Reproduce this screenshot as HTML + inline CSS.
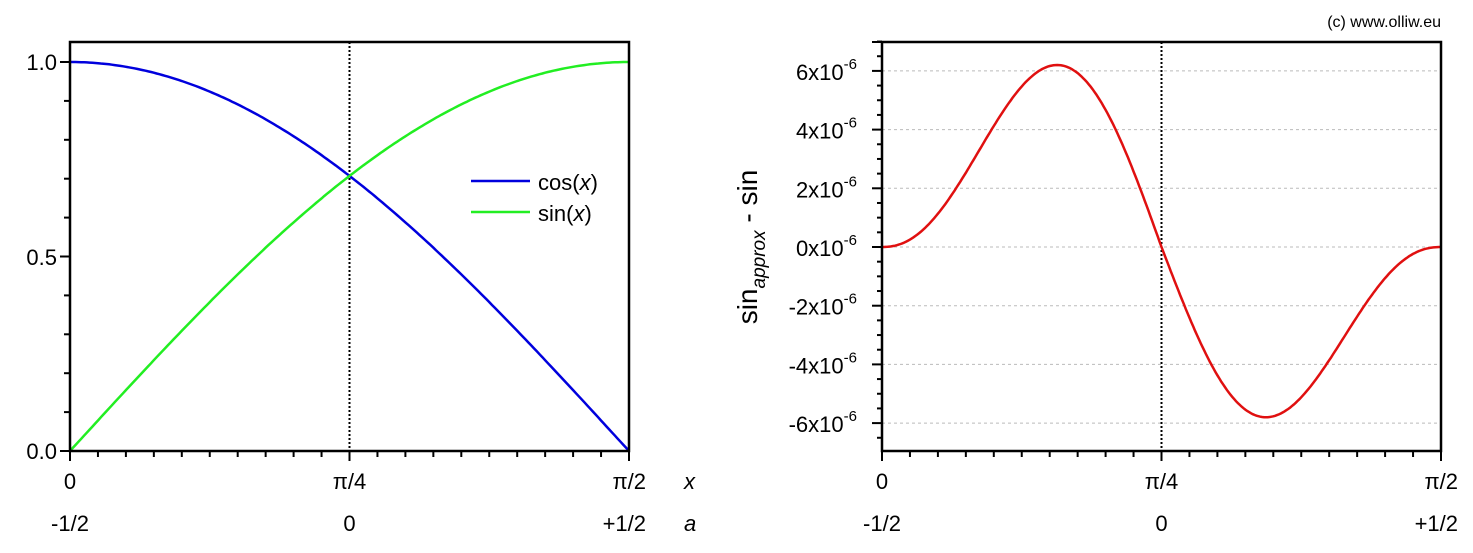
<!DOCTYPE html>
<html><head><meta charset="utf-8"><style>
html,body{margin:0;padding:0;background:#fff;}
svg{display:block;font-family:"Liberation Sans",Arial,sans-serif;}
</style></head><body>
<svg id="s" width="1473" height="553" viewBox="0 0 1473 553" xmlns="http://www.w3.org/2000/svg">
<text x="1441" y="27" font-size="16" text-anchor="end">(c) www.olliw.eu</text>
<g id="L"></g><g id="R"></g>
<g font-size="22" fill="#000">
<text x="70" y="489" text-anchor="middle">0</text>
<text x="349.5" y="489" text-anchor="middle">π/4</text>
<text x="646" y="489" text-anchor="end">π/2</text>
<text x="684" y="489" font-style="italic">x</text>
<text x="70" y="531" text-anchor="middle">-1/2</text>
<text x="349.5" y="531" text-anchor="middle">0</text>
<text x="646" y="531" text-anchor="end">+1/2</text>
<text x="684" y="531" font-style="italic">a</text>
<text x="57" y="70" text-anchor="end">1.0</text>
<text x="57" y="265" text-anchor="end">0.5</text>
<text x="57" y="459" text-anchor="end">0.0</text>
<text x="882" y="489" text-anchor="middle">0</text>
<text x="1161.5" y="489" text-anchor="middle">π/4</text>
<text x="1458" y="489" text-anchor="end">π/2</text>
<text x="882" y="531" text-anchor="middle">-1/2</text>
<text x="1161.5" y="531" text-anchor="middle">0</text>
<text x="1458" y="531" text-anchor="end">+1/2</text>
<text x="538" y="190">cos(<tspan font-style="italic">x</tspan>)</text>
<text x="538" y="221">sin(<tspan font-style="italic">x</tspan>)</text>
</g>
<text transform="translate(757,247) rotate(-90)" font-size="28" text-anchor="middle">sin<tspan font-size="19" font-style="italic" dy="8">approx</tspan><tspan dy="-8"> - sin</tspan></text>
</svg>
<script>
var NS="http://www.w3.org/2000/svg";
function el(p,t,a,txt){var e=document.createElementNS(NS,t);for(var k in a)e.setAttribute(k,a[k]);if(txt!==undefined)e.textContent=txt;p.appendChild(e);return e;}
var L=document.getElementById("L"),R=document.getElementById("R");
var x0=70,x1=629,yt=42,yb=451;
function ly(v){return 451-v*389;}
for(var i=0;i<=20;i++){var x=x0+i*(x1-x0)/20;el(L,"line",{x1:x,x2:x,y1:yb,y2:yb+(i%10==0?10:6),stroke:"#000","stroke-width":2});}
for(var i=0;i<=10;i++){var y=ly(i/10);el(L,"line",{x1:x0,x2:x0-(i%5==0?10:6),y1:y,y2:y,stroke:"#000","stroke-width":2});}
el(L,"line",{x1:349.5,x2:349.5,y1:yt,y2:yb,stroke:"#000","stroke-width":2,"stroke-dasharray":"2,2"});
var pc="",ps="";
for(var i=0;i<=200;i++){var t=i/200*Math.PI/2,x=x0+i/200*(x1-x0);pc+=(i?"L":"M")+x.toFixed(1)+","+ly(Math.cos(t)).toFixed(1);ps+=(i?"L":"M")+x.toFixed(1)+","+ly(Math.sin(t)).toFixed(1);}
el(L,"path",{d:pc,fill:"none",stroke:"#0000dd","stroke-width":2.5});
el(L,"path",{d:ps,fill:"none",stroke:"#22ee22","stroke-width":2.5});
el(L,"rect",{x:x0,y:yt,width:x1-x0,height:yb-yt,fill:"none",stroke:"#000","stroke-width":2.5});
el(L,"line",{x1:471,x2:530,y1:181,y2:181,stroke:"#0000dd","stroke-width":2.5});
el(L,"line",{x1:471,x2:530,y1:212,y2:212,stroke:"#22ee22","stroke-width":2.5});
var a0=882,a1=1441;
function ry(v){return 247-v*29.35;}
for(var k=-6;k<=6;k+=2){var y=ry(k);el(R,"line",{x1:a0,x2:a1,y1:y,y2:y,stroke:"#bbb","stroke-width":1,"stroke-dasharray":"3,3"});
var t=el(R,"text",{x:857,y:y+9,"font-size":22,"text-anchor":"end"});t.textContent=k+"x10";var s=el(t,"tspan",{"font-size":15,dy:-11});s.textContent="-6";}
for(var k=-14;k<=14;k++){var y=ry(k/2);if(y<yt-1||y>yb+1)continue;el(R,"line",{x1:a0,x2:a0-(k%4==0?10:5),y1:y,y2:y,stroke:"#000","stroke-width":2});}
el(R,"line",{x1:a0,x2:a0-10,y1:yt,y2:yt,stroke:"#000","stroke-width":2});
for(var i=0;i<=20;i++){var x=a0+i*(a1-a0)/20;el(R,"line",{x1:x,x2:x,y1:yb,y2:yb+(i%10==0?10:6),stroke:"#000","stroke-width":2});}
el(R,"line",{x1:1161.5,x2:1161.5,y1:yt,y2:yb,stroke:"#000","stroke-width":2,"stroke-dasharray":"2,2"});
var pr="",p=0.63,c0=-p/(1+p),mx=Math.sqrt(1-c0*c0)*Math.pow(1-c0,p);
for(var i=0;i<=300;i++){var u=i/300,th=2*Math.PI*u,h=Math.sin(th)*Math.pow(1-Math.cos(th),p),v=h*(h>0?6.2:5.8)/mx;
var x=a0+u*(a1-a0);pr+=(i?"L":"M")+x.toFixed(1)+","+ry(v).toFixed(1);}
el(R,"path",{d:pr,fill:"none",stroke:"#e01010","stroke-width":2.5});
el(R,"rect",{x:a0,y:yt,width:a1-a0,height:yb-yt,fill:"none",stroke:"#000","stroke-width":2.5});
</script>
</body></html>
